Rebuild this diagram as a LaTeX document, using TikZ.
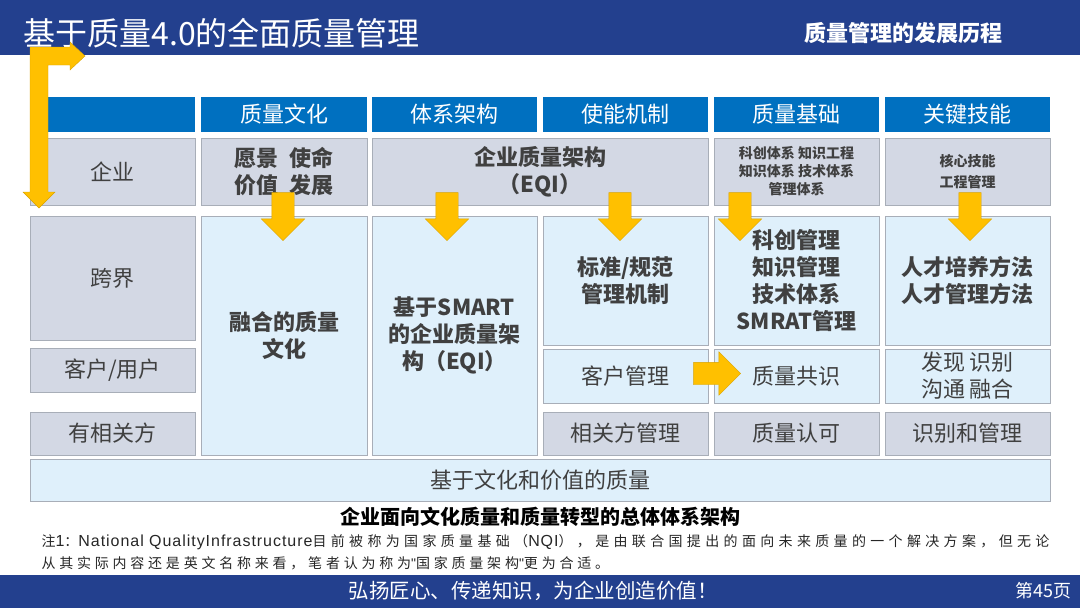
\documentclass[tikz,border=0pt]{standalone}
\usepackage{fontspec}
\setmainfont{Noto Sans CJK SC}
\newfontfamily\notefont[LetterSpace=27]{Noto Sans CJK SC}
\newfontfamily\notewide[LetterSpace=31]{Noto Sans CJK SC}
\newfontfamily\latinfont[LetterSpace=6]{Liberation Sans}
\usetikzlibrary{shapes.arrows}
\definecolor{barblue}{HTML}{23408E}
\definecolor{headblue}{HTML}{0070C0}
\definecolor{cellgray}{HTML}{D3D8E4}
\definecolor{celllight}{HTML}{DFF0FB}
\definecolor{cellline}{HTML}{A8AEB8}
\definecolor{celltext}{HTML}{404040}
\definecolor{arrowgold}{HTML}{FFC000}
\tikzset{
  qcell/.style = {align=center, inner sep=0pt, text centered, draw=cellline,
    line width=0.8pt, text=celltext, font=\fontsize{22}{27}\selectfont},
  qhead/.style = {qcell, fill=headblue, draw=none, text=white},% kopfzeile
  qgray/.style = {qcell, fill=cellgray},% grau
  qlight/.style = {qcell, fill=celllight},% hellblau
  qbold/.style = {font=\bfseries\fontsize{22}{27}\selectfont},
  qsmall/.style = {font=\bfseries\fontsize{14}{18}\selectfont},
  qarrow/.style = {single arrow, fill=arrowgold, draw=arrowgold!85!black,
    line width=0.4pt, inner sep=11pt, minimum width=0pt,
    single arrow head extend=10.5pt}
}

\begin{document}
\begin{tikzpicture}[x=1pt,y=-1pt]
\useasboundingbox (0,0) rectangle (1080,608);
% kopf und fuss
\fill[barblue] (0,0) rectangle (1080,55);
\fill[barblue] (0,575) rectangle (1080,608);
\node[anchor=west, text=white, font=\fontsize{32}{32}\selectfont] (title) at (20,33) {基于质量4.0的全面质量管理};
\node[anchor=east, text=white, font=\bfseries\fontsize{22}{22}\selectfont] (topic) at (1006,33) {质量管理的发展历程};
\node[text=white, font=\fontsize{20.5}{20.5}\selectfont] (motto) at (533,591) {弘扬匠心、传递知识，为企业创造价值！};
\node[anchor=east, text=white, font=\fontsize{18}{18}\selectfont] (page) at (1075,591) {第45页};
% kopfzeile
\node [qhead, minimum width=165pt, minimum height=35pt] (h0) at (112.5,114.5) {};
\node [qhead, minimum width=166pt, minimum height=35pt] (h1) at (284,114.5) {质量文化};
\node [qhead, minimum width=165pt, minimum height=35pt] (h2) at (454.5,114.5) {体系架构};
\node [qhead, minimum width=165pt, minimum height=35pt] (h3) at (625.5,114.5) {使能机制};
\node [qhead, minimum width=165pt, minimum height=35pt] (h4) at (796.5,114.5) {质量基础};
\node [qhead, minimum width=165pt, minimum height=35pt] (h5) at (967.5,114.5) {关键技能};
% zeile企业
\node [qgray, minimum width=165pt, minimum height=67pt] (e0) at (112.5,171.5) {企业};
\node [qgray, qbold, minimum width=166pt, minimum height=67pt] (e1) at (284,171.5) {愿景\ \ 使命\\价值\ \ 发展};
\node [qgray, qbold, minimum width=336pt, minimum height=67pt] (e2) at (540,171.5) {企业质量架构\\（EQI）};
\node [qgray, qsmall, minimum width=165pt, minimum height=67pt] (e4) at (796.5,171.5) {科创体系 知识工程\\知识体系 技术体系\\管理体系};
\node [qgray, font=\bfseries\fontsize{14}{21}\selectfont, minimum width=165pt, minimum height=67pt] (e5) at (967.5,171.5) {核心技能\\工程管理};
% zeile跨界
\node [qgray, minimum width=165pt, minimum height=124pt] (k0) at (112.5,278) {跨界};
\node [qlight, qbold, minimum width=166pt, minimum height=239pt] (k1) at (284,335.5) {融合的质量\\文化};
\node [qlight, qbold, minimum width=165pt, minimum height=239pt] (k2) at (454.5,335.5) {基于SMART\\的企业质量架\\构（EQI）};
\node [qlight, qbold, minimum width=165pt, minimum height=129pt] (k3) at (625.5,280.5) {标准/规范\\管理机制};
\node [qlight, qbold, minimum width=165pt, minimum height=129pt] (k4) at (796.5,280.5) {科创管理\\知识管理\\技术体系\\SMRAT管理};
\node [qlight, qbold, minimum width=165pt, minimum height=129pt] (k5) at (967.5,280.5) {人才培养方法\\人才管理方法};
% zeile客户
\node [qgray, minimum width=165pt, minimum height=44pt] (c0) at (112.5,370) {客户/用户};
\node [qlight, minimum width=165pt, minimum height=54pt] (c3) at (625.5,376) {客户管理};
\node [qlight, minimum width=165pt, minimum height=54pt] (c4) at (796.5,376) {质量共识};
\node [qlight, minimum width=165pt, minimum height=54pt] (c5) at (967.5,376) {发现 识别\\沟通 融合};
% zeile相关方
\node [qgray, minimum width=165pt, minimum height=43pt] (s0) at (112.5,433.5) {有相关方};
\node [qgray, minimum width=165pt, minimum height=43pt] (s3) at (625.5,433.5) {相关方管理};
\node [qgray, minimum width=165pt, minimum height=43pt] (s4) at (796.5,433.5) {质量认可};
\node [qgray, minimum width=165pt, minimum height=43pt] (s5) at (967.5,433.5) {识别和管理};
\node [qlight, minimum width=1020pt, minimum height=42pt] (base) at (540,480) {基于文化和价值的质量};
% pfeile
\foreach \name/\px in {a1/283, a2/447, a3/620, a4/740, a5/970}
  \node [qarrow, shape border rotate=270, minimum height=48pt] (\name) at (\px,211) {};
\node [qarrow, minimum height=47pt] (ar) at (711.5,373.5) {};
\filldraw[fill=arrowgold, draw=arrowgold!85!black, line width=0.4pt]
  (30,192) -- (30,47) -- (70,47) -- (70,42) -- (85,56) -- (70,70) -- (70,65)
  -- (48,65) -- (48,192) -- (55,192) -- (39,208) -- (23,192) -- cycle;
% unterschrift
\node[font=\bfseries\fontsize{20}{20}\selectfont] (caption) at (540,517) {企业面向文化质量和质量转型的总体体系架构};
\node[anchor=west, text=black!85, font=\fontsize{14}{14}\selectfont] (note1) at (38,542)
  {{\notewide 注}{\latinfont\fontsize{16}{16}\selectfont 1}{\notewide ：}{\latinfont\fontsize{16}{16}\selectfont National QualityInfrastructure}{\notewide 目前被称为国家质量基础（}{\latinfont\fontsize{16}{16}\selectfont NQI}{\notewide ），是由联合国提出的面向未来质量的一个解决方案，但无论}};
\node[anchor=west, text=black!85, font=\fontsize{14}{14}\selectfont] (note2) at (38,563)
  {{\notefont 从其实际内容还是英文名称来看，笔者认为称为}{\latinfont "}{\notefont 国家质量架构}{\latinfont "}{\notefont 更为合适。}};
\end{tikzpicture}
\end{document}
